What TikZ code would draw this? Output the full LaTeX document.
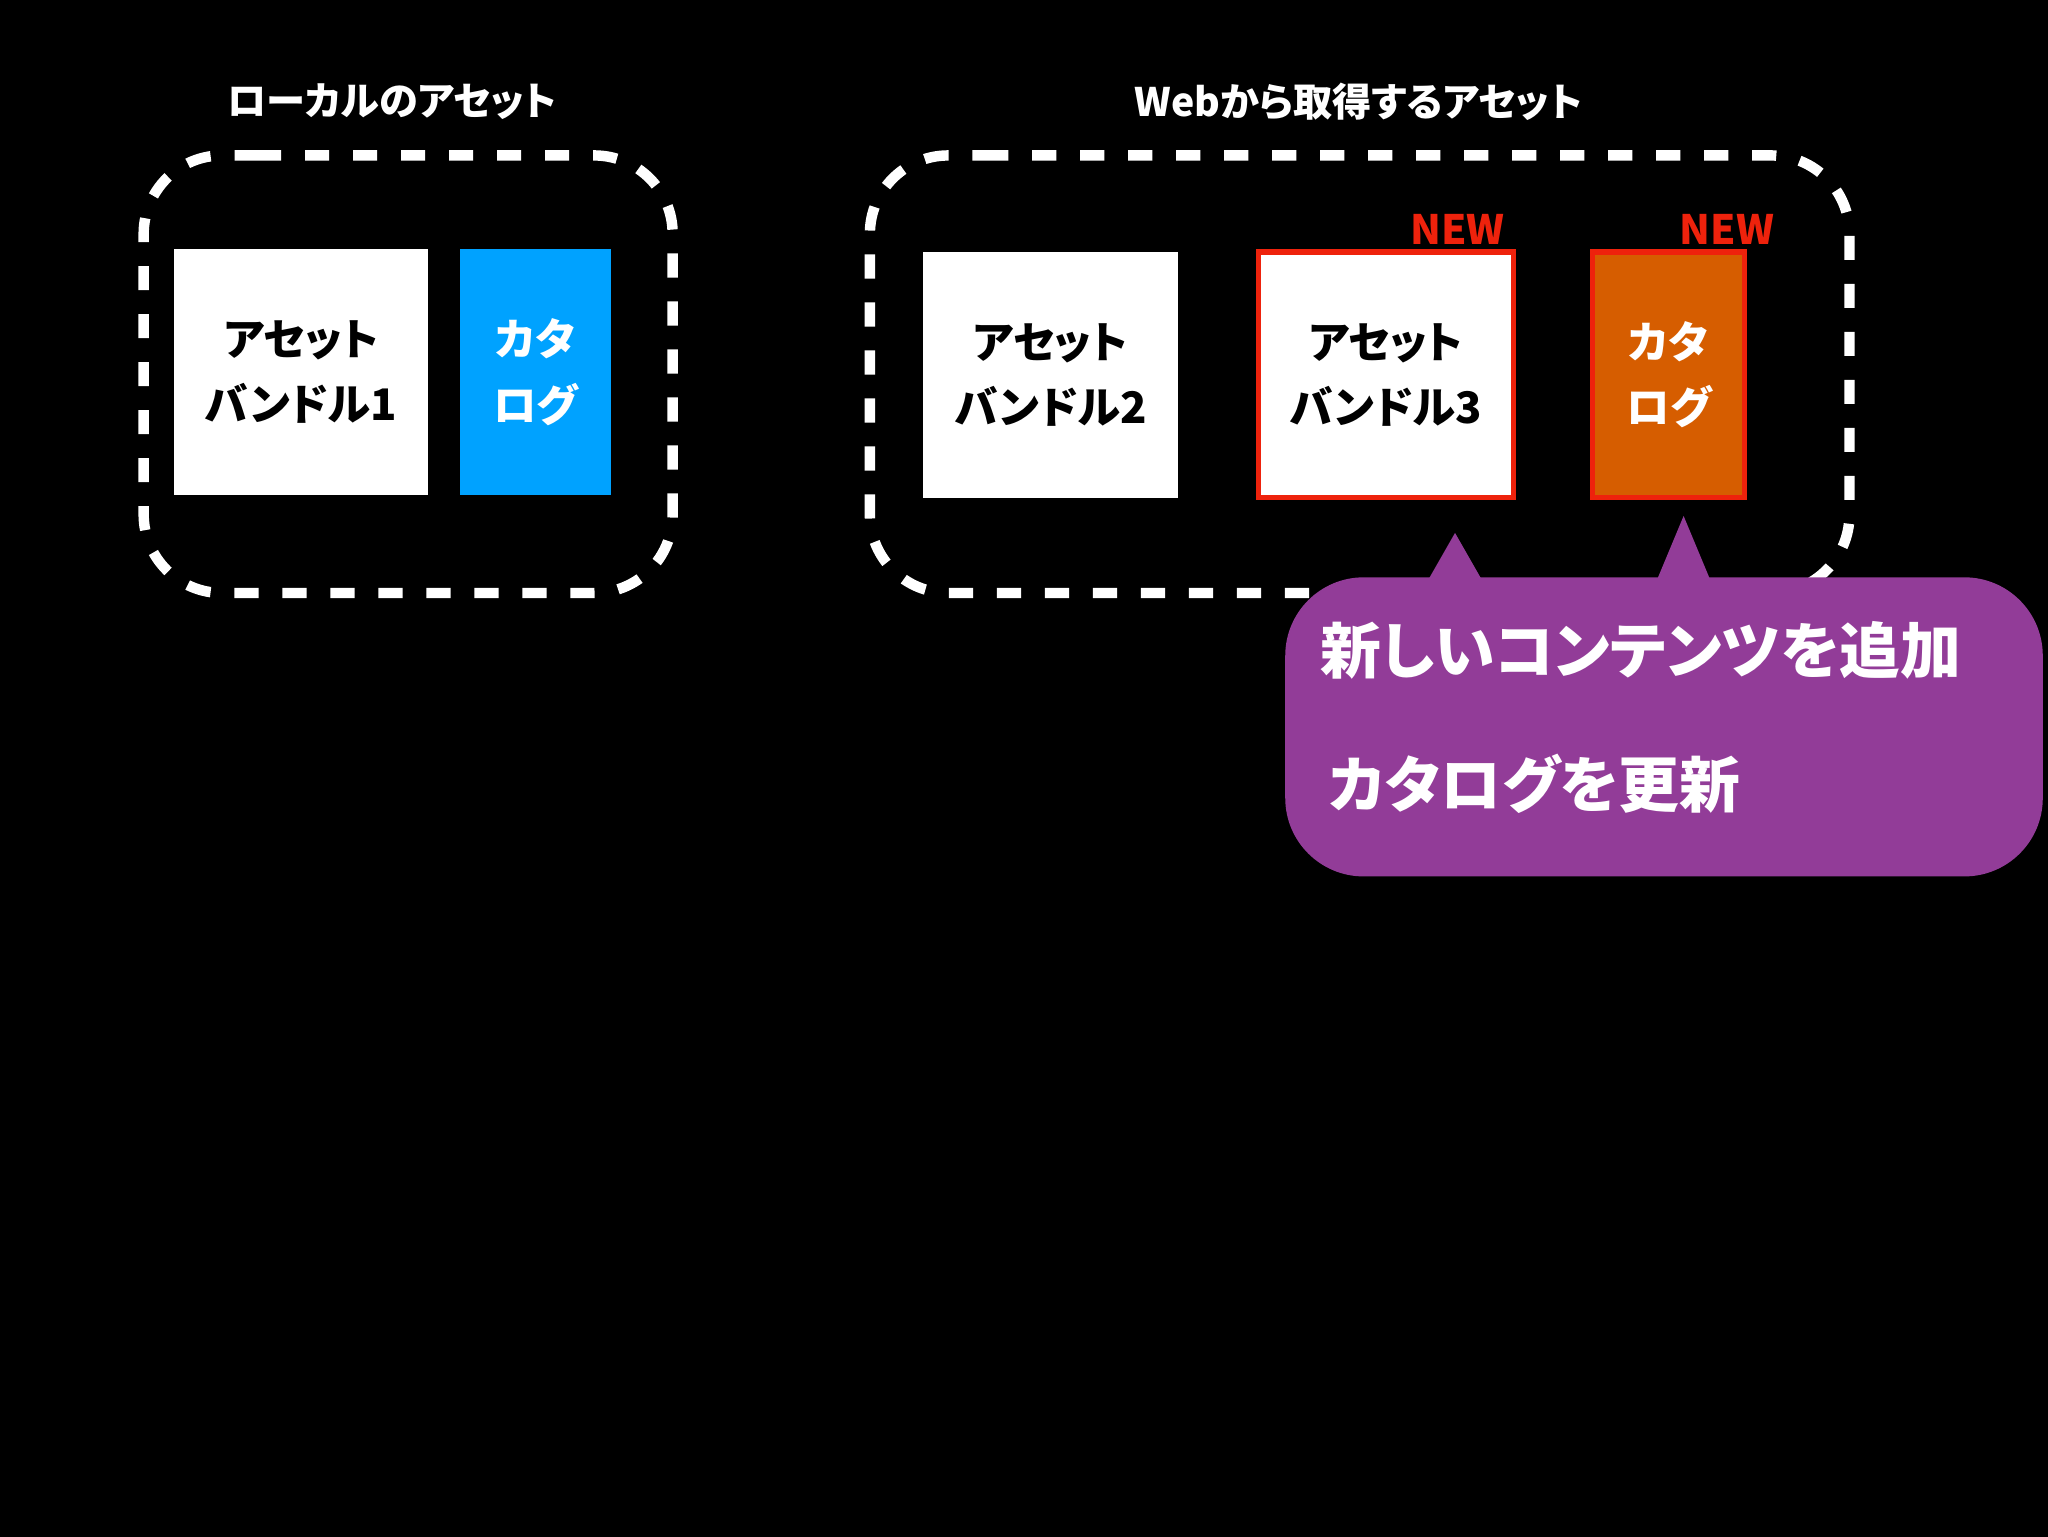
\documentclass[tikz,border=0pt]{standalone}
\usepackage{fontspec}
\setmainfont{Noto Sans CJK JP}[RawFeature=+palt]
\usetikzlibrary{positioning,calc,shapes}
\definecolor{catblue}{RGB}{0, 162, 255}
\definecolor{catorange}{RGB}{214, 93, 0}
\definecolor{newred}{RGB}{238, 34, 12}
\definecolor{notepurple}{RGB}{146, 60, 152}
\tikzset{
  title/.style={text=white,font=\bfseries\fontsize{30}{34}\selectfont},
  group/.style={draw=white,line width=8pt,dash pattern=on 18.45pt off 18.3pt,rounded corners=60pt},
  bundle/.style={fill=white,text=black,inner sep=0pt,minimum width=195pt,minimum height=188pt,align=center,font=\bfseries\fontsize{33.3}{50}\selectfont},
  catalog/.style={text=white,inner sep=0pt,minimum width=116pt,minimum height=188pt,align=center,font=\bfseries\fontsize{33.3}{50}\selectfont},
  newmark/.style={draw=newred,line width=4pt},
  newtag/.style={text=newred,font=\bfseries\fontsize{31}{34}\selectfont},
  notetext/.style={text=white,anchor=west,inner sep=0pt,font=\bfseries\fontsize{46.6}{50}\selectfont},
}
\begin{document}
\begin{tikzpicture}[x=1pt,y=-1pt]
   \useasboundingbox (0,0) rectangle (1568,1176);
   \fill[black] (-3,-3) rectangle (1571,1179);
   % local side
   \node (LocalTitle) at (300,78) [title] {ローカルのアセット};
   \draw[group] (196.8,119) -- (515,119) -- (515,454) -- (110,454) -- (110,119) -- (196.8,119);
   \node (Bundle1) at (230.5,285) [bundle] {アセット\\バンドル1};
   \node (Catalog1) at (410,285) [catalog,fill=catblue] {カタ\\ログ};
   % web side
   \node (WebTitle) at (1040,78) [title] {Webから取得するアセット};
   \draw[group] (753.5,119) -- (1416,119) -- (1416,454) -- (666,454) -- (666,119) -- (753.5,119);
   \node (Bundle2) at (804.5,287) [bundle] {アセット\\バンドル2};
   \node (Bundle3) at (1061,287) [bundle,newmark] {アセット\\バンドル3};
   \node (Catalog2) at (1277.5,287) [catalog,fill=catorange,newmark] {カタ\\ログ};
   \node (New3) at (1116,176) [newtag] {NEW};
   \node (New4) at (1322,176) [newtag] {NEW};
   % callout
   \node (Note) at (1274,556.5) [fill=notepurple,rounded corners=60pt,inner sep=0pt,minimum width=580pt,minimum height=229pt] {};
   \foreach \x/\y in {1114/408,1289/395} {
     \fill[notepurple] (\x,\y) -- (\x+20,443) -- (\x-20,443) -- cycle;
   }
   \node (NoteAdd) at (1011,498) [notetext] {新しいコンテンツを追加};
   \node (NoteUpd) at (1017,600) [notetext] {カタログを更新};
\end{tikzpicture}
\end{document}
